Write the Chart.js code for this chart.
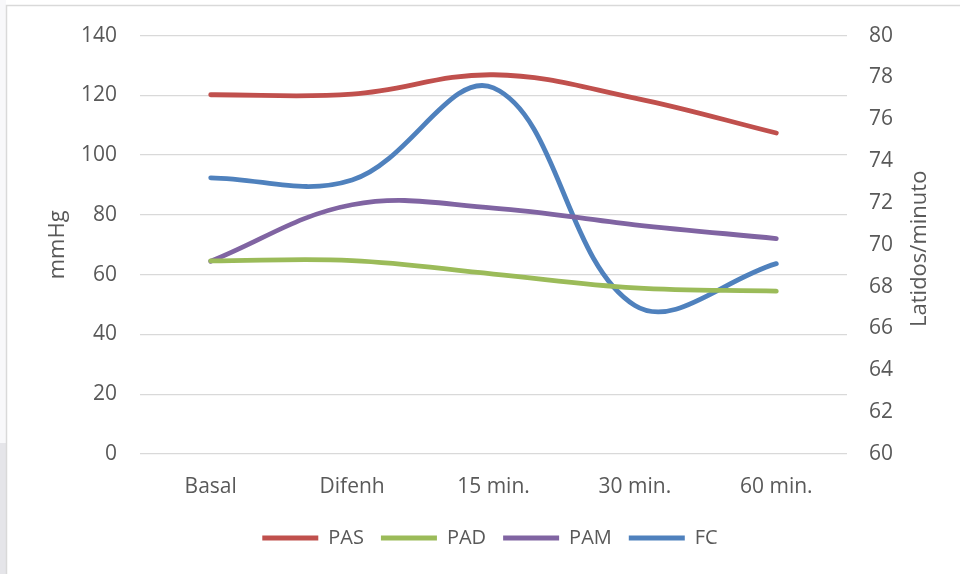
<!DOCTYPE html>
<html>
<head>
<meta charset="utf-8">
<script src="https://cdn.jsdelivr.net/npm/chart.js@4/dist/chart.umd.min.js"></script>
<style>
  html, body { margin: 0; padding: 0; background: #ffffff; }
  #wrap { width: 960px; height: 574px; position: relative; }
</style>
</head>
<body>
<div id="wrap"><canvas id="c" width="960" height="574"></canvas></div>
<script>
// Time points of the measurement
const categories = ['Basal', 'Difenh', '15 min.', '30 min.', '60 min.'];

// Blood pressure series (mmHg, left axis)
const pas = [120.2, 120.4, 126.9, 119.1, 107.4];
const pad = [64.6, 64.7, 60.2, 55.6, 54.5];
const pam = [64.5, 83.4, 82.3, 76.7, 72.1];

// Heart rate (beats per minute, right axis)
const fc = [73.2, 73.1, 77.5, 67.1, 69.1];

// Axis ranges
const leftTicks = { min: 0, max: 140, step: 20 };
const rightTicks = { min: 60, max: 80, step: 2 };

const FONT = "'Open Sans', 'DejaVu Sans', sans-serif";
const TEXT = '#595959';

// Frame, side strip and rotated right-axis title
const decor = {
  id: 'decor',
  beforeDraw(chart) {
    const ctx = chart.ctx;
    ctx.save();
    ctx.fillStyle = '#ffffff';
    ctx.fillRect(0, 0, chart.width, chart.height);
    ctx.fillStyle = '#f8f8fa';
    ctx.fillRect(0, 0, 6, 443);
    ctx.fillStyle = '#e5e5e9';
    ctx.fillRect(0, 443, 6, chart.height - 443);
    ctx.strokeStyle = '#d9d9d9';
    ctx.lineWidth = 1.5;
    ctx.beginPath();
    ctx.moveTo(6.5, chart.height);
    ctx.lineTo(6.5, 5.5);
    ctx.lineTo(chart.width, 5.5);
    ctx.stroke();
    ctx.restore();
  },
  afterDraw(chart) {
    const ctx = chart.ctx;
    const area = chart.chartArea;
    ctx.save();
    ctx.translate(920, (area.top + area.bottom) / 2 + 4);
    ctx.rotate(-Math.PI / 2);
    ctx.fillStyle = TEXT;
    ctx.font = '22px ' + FONT;
    ctx.textAlign = 'center';
    ctx.textBaseline = 'middle';
    ctx.fillText('Latidos/minuto', 0, 0);
    ctx.restore();
  }
};

function series(label, data, color, axis) {
  return {
    label: label,
    data: data,
    yAxisID: axis,
    borderColor: color,
    backgroundColor: color,
    borderWidth: 4.8,
    borderCapStyle: 'round',
    borderJoinStyle: 'round',
    tension: 0.38,
    pointRadius: 0,
    pointHoverRadius: 0,
    fill: false
  };
}

new Chart(document.getElementById('c'), {
  type: 'line',
  data: {
    labels: categories,
    datasets: [
      series('PAS', pas, '#C0504D', 'y'),
      series('PAD', pad, '#9BBB59', 'y'),
      series('PAM', pam, '#8064A2', 'y'),
      series('FC', fc, '#4F81BD', 'y1')
    ]
  },
  plugins: [decor],
  options: {
    responsive: false,
    animation: false,
    devicePixelRatio: 1,
    layout: { padding: { top: 34, left: 20, right: 0, bottom: 16 } },
    plugins: {
      tooltip: { enabled: false },
      legend: {
        position: 'bottom',
        labels: {
          usePointStyle: true,
          pointStyle: 'line',
          pointStyleWidth: 56,
          padding: 17,
          color: TEXT,
          font: { family: FONT, size: 20 }
        }
      }
    },
    scales: {
      x: {
        offset: true,
        grid: { display: false },
        border: { display: false },
        ticks: { color: TEXT, padding: 12, maxRotation: 0, font: { family: FONT, size: 21 } },
        afterFit(s) { s.height = 57; }
      },
      y: {
        position: 'left',
        min: leftTicks.min,
        max: leftTicks.max,
        ticks: { stepSize: leftTicks.step, color: TEXT, padding: 23, font: { family: FONT, size: 21 } },
        grid: { color: '#d9d9d9', lineWidth: 1.3, drawTicks: false },
        border: { display: false },
        title: { display: true, text: 'mmHg', color: TEXT, padding: { top: 25, bottom: 0 }, font: { family: FONT, size: 22 } },
        afterFit(s) { s.width = 120; }
      },
      y1: {
        position: 'right',
        min: rightTicks.min,
        max: rightTicks.max,
        ticks: { stepSize: rightTicks.step, color: TEXT, padding: 22, font: { family: FONT, size: 21 } },
        grid: { display: false, drawTicks: false },
        border: { display: false },
        afterFit(s) { s.width = 113; }
      }
    }
  }
});
</script>
</body>
</html>
